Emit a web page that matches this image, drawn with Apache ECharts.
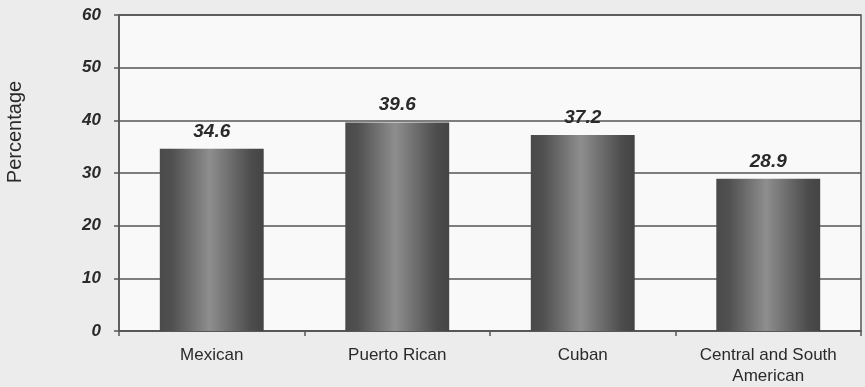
<!DOCTYPE html>
<html>
<head>
<meta charset="utf-8">
<script src="https://cdn.jsdelivr.net/npm/echarts@6/dist/echarts.min.js"></script>
<style>
  html, body { margin: 0; padding: 0; background: #ececec; }
  #chart { width: 865px; height: 387px; }
</style>
</head>
<body>
<div id="chart"></div>
<script>
// Share of population by origin group (percent)
const categories = ['Mexican', 'Puerto Rican', 'Cuban', 'Central and South\nAmerican'];
const percentages = [34.6, 39.6, 37.2, 28.9];
const yTicks = { min: 0, max: 60, interval: 10 };

const ink = '#2a2a2a';
const lineColor = '#555555';
const fontStack = 'Arial, "Liberation Sans", sans-serif';

// Cylinder-like shading across each bar
const barFill = new echarts.graphic.LinearGradient(0, 0, 1, 0, [
  { offset: 0, color: '#4a4a4a' },
  { offset: 0.12, color: '#505050' },
  { offset: 0.48, color: '#8e8e8e' },
  { offset: 0.88, color: '#4c4c4c' },
  { offset: 1, color: '#444444' }
]);

const chart = echarts.init(document.getElementById('chart'), null, { renderer: 'canvas' });
chart.setOption({
  backgroundColor: '#ececec',
  animation: false,
  grid: {
    left: 119, right: 4, top: 15, bottom: 56,
    show: true, backgroundColor: '#f9f9f9',
    borderColor: lineColor, borderWidth: 1.5
  },
  graphic: [{
    type: 'text',
    x: 15, y: 132,
    rotation: Math.PI / 2,
    style: {
      text: 'Percentage',
      font: '20px ' + fontStack,
      fill: ink,
      textAlign: 'center',
      textVerticalAlign: 'middle'
    }
  }],
  xAxis: {
    type: 'category',
    data: categories,
    axisLine: { lineStyle: { color: lineColor, width: 1.5 } },
    axisTick: { show: true, length: 5, lineStyle: { color: lineColor, width: 1.5 } },
    axisLabel: {
      color: ink, fontSize: 17, margin: 14, lineHeight: 21,
      fontFamily: fontStack
    }
  },
  yAxis: {
    type: 'value',
    min: yTicks.min, max: yTicks.max, interval: yTicks.interval,
    axisLine: { show: true, lineStyle: { color: lineColor, width: 1.5 } },
    axisTick: { show: true, length: 5, lineStyle: { color: lineColor, width: 1.5 } },
    splitLine: { lineStyle: { color: lineColor, width: 1.5 } },
    axisLabel: {
      color: ink, fontSize: 17, fontWeight: 'bold', fontStyle: 'italic', margin: 18,
      fontFamily: fontStack
    }
  },
  series: [{
    type: 'bar',
    data: percentages,
    barWidth: '56%',
    itemStyle: { color: barFill },
    label: {
      show: true, position: 'top', distance: 8,
      color: ink, fontSize: 19, fontWeight: 'bold', fontStyle: 'italic',
      fontFamily: fontStack,
      formatter: p => p.value.toFixed(1)
    }
  }]
});
</script>
</body>
</html>
